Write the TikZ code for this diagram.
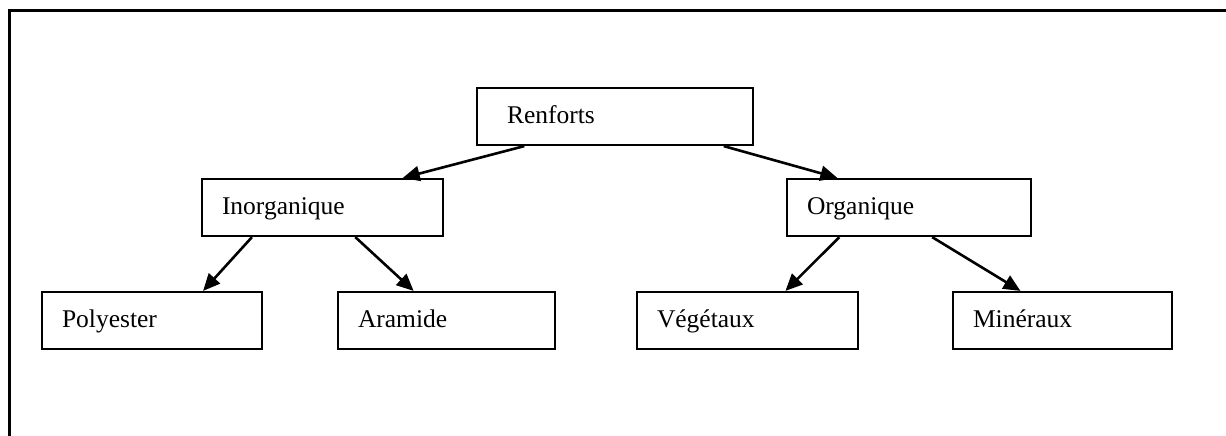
\documentclass[tikz,border=0pt]{standalone}
\usepackage{fontspec}
\setmainfont{Liberation Serif}
\usetikzlibrary{arrows.meta,calc}
\tikzset{
  box/.style={draw=black, line width=2.2pt, minimum height=57pt, inner xsep=20pt, inner ysep=0pt,
    align=left, text height=17pt, text depth=4pt,
    font=\fontsize{25.5}{30}\selectfont},
  link/.style={line width=2.6pt, -{Triangle[length=17pt,width=15pt]}},
  frame/.style={line width=3pt}
}
\begin{document}
\begin{tikzpicture}[x=1pt,y=-1pt]
  \useasboundingbox (0,0) rectangle (1226,436);
  % open frame: top and left sides only
  \draw[frame] (9,436) -- (9,11) -- (1226,11);

  \node[box, minimum width=276pt, text width=236pt] (ren) at (615,116.5) {\hspace*{10pt}Renforts};
  \node[box, minimum width=241pt, text width=201pt] (ino) at (322.5,207.5) {Inorganique};
  \node[box, minimum width=244pt, text width=204pt] (org) at (909,207.5) {Organique};
  \node[box, minimum width=220pt, text width=180pt] (pol) at (152,320.5) {Polyester};
  \node[box, minimum width=217pt, text width=177pt] (ara) at (446.5,320.5) {Aramide};
  \node[box, minimum width=221pt, text width=181pt] (veg) at (747.5,320.5) {Végétaux};
  \node[box, minimum width=219pt, text width=179pt] (min) at (1062.5,320.5) {Minéraux};

  \draw[link] ($(ren.south west)!0.174!(ren.south east)$) -- ($(ino.north west)!0.83!(ino.north east)$);
  \draw[link] ($(ren.south west)!0.891!(ren.south east)$) -- ($(org.north west)!0.209!(org.north east)$);
  \draw[link] ($(ino.south west)!0.21!(ino.south east)$) -- ($(pol.north west)!0.73!(pol.north east)$);
  \draw[link] ($(ino.south west)!0.635!(ino.south east)$) -- ($(ara.north west)!0.35!(ara.north east)$);
  \draw[link] ($(org.south west)!0.217!(org.south east)$) -- ($(veg.north west)!0.67!(veg.north east)$);
  \draw[link] ($(org.south west)!0.594!(org.south east)$) -- ($(min.north west)!0.31!(min.north east)$);
\end{tikzpicture}
\end{document}
